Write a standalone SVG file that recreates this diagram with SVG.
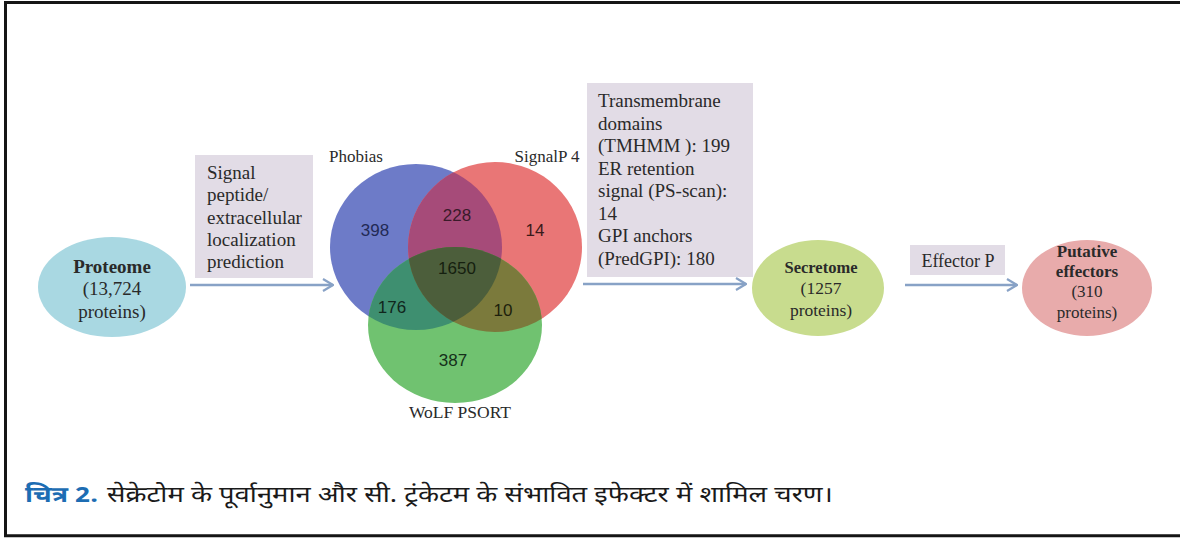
<svg xmlns="http://www.w3.org/2000/svg" width="1180" height="538" viewBox="0 0 1180 538">
<style>
.serif{font-family:"Liberation Serif","Times New Roman",serif;fill:#2a2a2a}
.lbl{font-size:19px}
.b{font-weight:bold}
.num{font-family:"Liberation Sans",Arial,sans-serif;font-size:17px;text-anchor:middle;fill:#1e2a28}
.box{fill:#e2dce6}
.conn{stroke:#88a2c6;stroke-width:2.5;fill:none}
.mid{text-anchor:middle}
.cap{font-family:"Noto Sans Devanagari","Noto Sans","Liberation Sans",sans-serif;font-size:22px}
</style>
<defs>
<marker id="arr" viewBox="0 0 12 14" refX="11" refY="7" markerWidth="12" markerHeight="14" markerUnits="userSpaceOnUse" orient="auto">
<path d="M1,1 L11,7 L1,13" fill="none" stroke="#88a2c6" stroke-width="2.2"/>
</marker>
<clipPath id="cB"><ellipse cx="416" cy="247" rx="86" ry="83"/></clipPath>
<clipPath id="cR"><ellipse cx="495" cy="247" rx="87" ry="85"/></clipPath>
</defs>
<rect width="1180" height="538" fill="#fff"/>
<g id="frame" stroke="#151515" stroke-width="3" fill="none">
<path d="M4,2.5 H1180 M5.5,1 V537 M4,535.7 H1180"/>
</g>

<g id="connectors">
<line class="conn" x1="190" y1="285" x2="333" y2="285" marker-end="url(#arr)"/>
<line class="conn" x1="583" y1="284" x2="746" y2="284" marker-end="url(#arr)"/>
<line class="conn" x1="905" y1="285" x2="1017" y2="285" marker-end="url(#arr)"/>
</g>

<g id="proteome">
<ellipse cx="112" cy="287" rx="74" ry="50" fill="#a9d8e2"/>
<text class="serif lbl b mid" x="112" y="273">Proteome</text>
<text class="serif lbl mid" x="112" y="295">(13,724</text>
<text class="serif lbl mid" x="112" y="318">proteins)</text>
</g>

<g id="label-signal">
<rect class="box" x="195" y="155" width="118" height="123"/>
<text class="serif lbl" x="207" y="179">Signal</text>
<text class="serif lbl" x="207" y="201">peptide/</text>
<text class="serif lbl" x="207" y="224">extracellular</text>
<text class="serif lbl" x="207" y="246">localization</text>
<text class="serif lbl" x="207" y="268">prediction</text>
</g>

<g id="venn">
<ellipse cx="416" cy="247" rx="86" ry="83" fill="#6d7bc8"/>
<ellipse cx="495" cy="247" rx="87" ry="85" fill="#e97676"/>
<ellipse cx="455" cy="325" rx="87" ry="78" fill="#70c270"/>
<ellipse cx="495" cy="247" rx="87" ry="85" fill="#a64b79" clip-path="url(#cB)"/>
<ellipse cx="455" cy="325" rx="87" ry="78" fill="#3e8f70" clip-path="url(#cB)"/>
<ellipse cx="455" cy="325" rx="87" ry="78" fill="#7b7a3c" clip-path="url(#cR)"/>
<g clip-path="url(#cB)"><ellipse cx="455" cy="325" rx="87" ry="78" fill="#4c5e3b" clip-path="url(#cR)"/></g>
<text class="serif mid" x="356" y="162" style="font-size:17px">Phobias</text>
<text class="serif mid" x="547" y="162" style="font-size:17px">SignalP 4</text>
<text class="serif mid" x="460" y="418" style="font-size:17.5px">WoLF PSORT</text>
<text class="num" x="375" y="236" style="fill:#222a55">398</text>
<text class="num" x="457" y="221" style="fill:#3a1a2a">228</text>
<text class="num" x="535" y="236" style="fill:#3a1a1a">14</text>
<text class="num" x="457" y="274" style="fill:#15200f">1650</text>
<text class="num" x="392" y="313" style="fill:#10261c">176</text>
<text class="num" x="503" y="316" style="fill:#1d1f0c">10</text>
<text class="num" x="453" y="366" style="fill:#15301a">387</text>
</g>

<g id="label-filters">
<rect class="box" x="587" y="83" width="166" height="194"/>
<text class="serif lbl" x="598" y="107">Transmembrane</text>
<text class="serif lbl" x="598" y="129.5">domains</text>
<text class="serif lbl" x="598" y="152">(TMHMM ): 199</text>
<text class="serif lbl" x="598" y="174.5">ER retention</text>
<text class="serif lbl" x="598" y="197">signal (PS-scan):</text>
<text class="serif lbl" x="598" y="219.5">14</text>
<text class="serif lbl" x="598" y="242">GPI anchors</text>
<text class="serif lbl" x="598" y="264.5">(PredGPI): 180</text>
</g>

<g id="secretome">
<ellipse cx="818" cy="288" rx="66" ry="48" fill="#c8dc8e"/>
<text class="serif b mid" x="821" y="273" style="font-size:16.5px">Secretome</text>
<text class="serif mid" x="821" y="294" style="font-size:17.5px">(1257</text>
<text class="serif mid" x="821" y="316" style="font-size:17.5px">proteins)</text>
</g>

<g id="label-effectorp">
<rect class="box" x="910" y="245" width="95" height="30"/>
<text class="serif mid" x="958" y="267" style="font-size:18px">Effector P</text>
</g>

<g id="putative">
<ellipse cx="1087" cy="288" rx="65" ry="48" fill="#e8abab"/>
<text class="serif b mid" x="1087" y="257" style="font-size:17px">Putative</text>
<text class="serif b mid" x="1087" y="277" style="font-size:17px">effectors</text>
<text class="serif mid" x="1087" y="297" style="font-size:17px">(310</text>
<text class="serif mid" x="1087" y="318" style="font-size:17px">proteins)</text>
</g>

<g id="caption">
<text class="cap" x="25" y="502" style="fill:#1d6db3;font-weight:bold" textLength="73" lengthAdjust="spacingAndGlyphs">चित्र 2.</text>
<text class="cap" x="107" y="502" style="fill:#1a1a1a" textLength="726" lengthAdjust="spacingAndGlyphs">सेक्रेटोम के पूर्वानुमान और सी. ट्रंकेटम के संभावित इफेक्टर में शामिल चरण।</text>
</g>
</svg>
